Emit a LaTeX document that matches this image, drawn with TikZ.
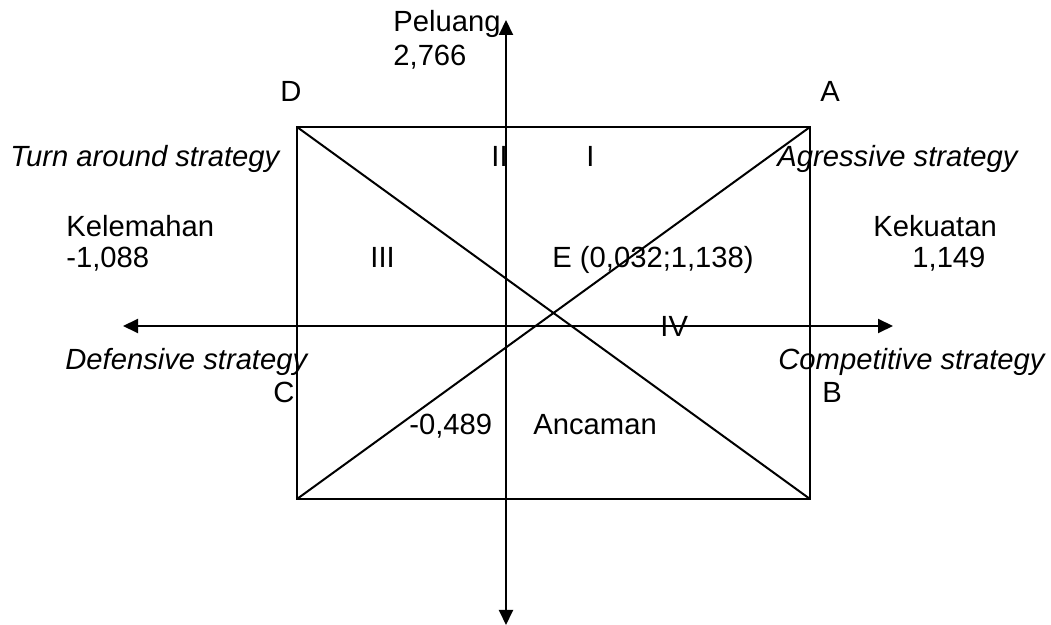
\documentclass[tikz,border=0pt]{standalone}
\usepackage{fontspec}
\setmainfont{Liberation Sans}
\usetikzlibrary{arrows.meta}
\begin{document}
\begin{tikzpicture}[x=0.5pt,y=-0.5pt,
  lbl/.style={anchor=base west,inner sep=0pt,font=\fontsize{14.6}{17}\selectfont},
  itl/.style={lbl,font=\fontsize{14.6}{17}\selectfont\itshape},
  ln/.style={line width=1pt},
  ax/.style={line width=1pt,{Triangle[length=7.5pt,width=7pt]}-{Triangle[length=7.5pt,width=7pt]}}]
\useasboundingbox (0,0) rectangle (1051,625);
% corners
\coordinate (A) at (810,127);
\coordinate (B) at (810,499);
\coordinate (C) at (297,499);
\coordinate (D) at (297,127);
% axis ends
\coordinate (top) at (506,20);
\coordinate (bot) at (506,625);
\coordinate (lft) at (123,326);
\coordinate (rgt) at (893,326);
\draw[ln] (D) -- (A) -- (B) -- (C) -- cycle;
\draw[ln] (D) -- (B);
\draw[ln] (C) -- (A);
\draw[ax] (bot) -- (top);
\draw[ax] (lft) -- (rgt);
% labels
\node[lbl] (peluang) at (393,32) {Peluang};
\node[lbl] (pv) at (393,66) {2,766};
\node[lbl] (lD) at (280,102) {D};
\node[lbl] (lA) at (820,102) {A};
\node[itl] (turn) at (10,167) {Turn around strategy};
\node[lbl] (q2) at (491,167) {II};
\node[lbl] (q1) at (586,167) {I};
\node[itl] (agr) at (777,167) {Agressive strategy};
\node[lbl] (kel) at (66,237) {Kelemahan};
\node[lbl] (kelv) at (66,268) {-1,088};
\node[lbl] (kek) at (873,237) {Kekuatan};
\node[lbl] (kekv) at (912,268) {1,149};
\node[lbl] (q3) at (370,268) {III};
\node[lbl] (E) at (552,268) {E (0,032;1,138)};
\node[lbl] (q4) at (660,337) {IV};
\node[itl] (def) at (65,370) {Defensive strategy};
\node[itl] (comp) at (778,370) {Competitive strategy};
\node[lbl] (lC) at (273,403) {C};
\node[lbl] (lB) at (822,403) {B};
\node[lbl] (anv) at (409,435) {-0,489};
\node[lbl] (anc) at (533,435) {Ancaman};
\end{tikzpicture}
\end{document}
